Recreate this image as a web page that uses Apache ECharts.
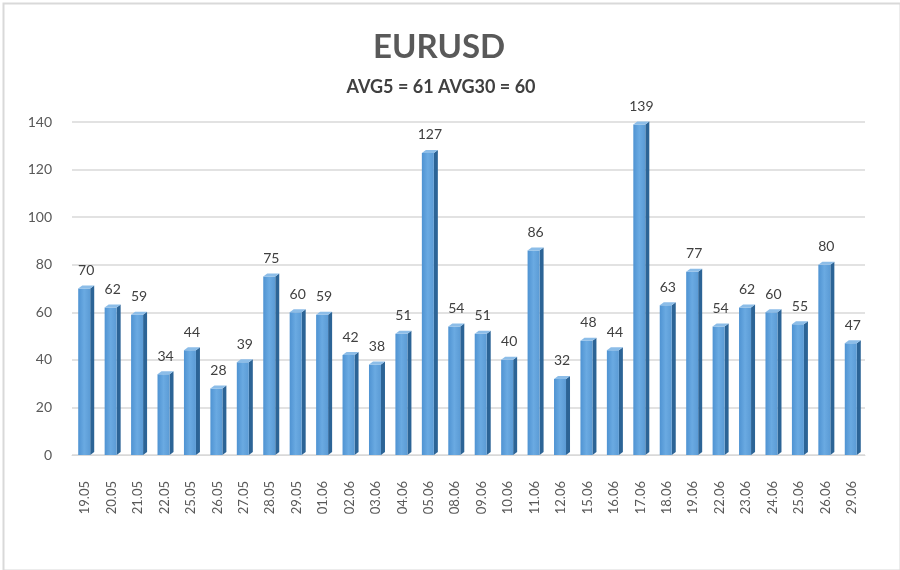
<!DOCTYPE html>
<html>
<head>
<meta charset="utf-8">
<script src="https://cdn.jsdelivr.net/npm/echarts@6/dist/echarts.min.js"></script>
<style>
  html, body { margin: 0; padding: 0; background: #fff; }
  #chart { width: 900px; height: 570px; }
</style>
</head>
<body>
<div id="chart"></div>
<script>
const dates = ["19.05", "20.05", "21.05", "22.05", "25.05", "26.05", "27.05", "28.05", "29.05", "01.06",
	"02.06", "03.06", "04.06", "05.06", "08.06", "09.06", "10.06", "11.06", "12.06", "15.06",
	"16.06", "17.06", "18.06", "19.06", "22.06", "23.06", "24.06", "25.06", "26.06", "29.06"];
const volatility = [70, 62, 59, 34, 44, 28, 39, 75, 60, 59,
	42, 38, 51, 127, 54, 51, 40, 86, 32, 48,
	44, 139, 63, 77, 54, 62, 60, 55, 80, 47];
const titleText = "EURUSD";
const subText = "AVG5 = 61 AVG30 = 60";

const font = "Lato, 'Open Sans', sans-serif";
const textColor = "#595959";

const faceColor = new echarts.graphic.LinearGradient(0, 0, 1, 0, [
	{ offset: 0, color: "#4f93d2" },
	{ offset: 0.5, color: "#6aaae2" },
	{ offset: 1, color: "#5b9bd5" },
]);

const chart = echarts.init(document.getElementById("chart"));

chart.setOption({
	backgroundColor: "#fff",
	animation: false,
	title: [
		{
			text: titleText,
			left: 434, top: 26, textAlign: "center",
			textStyle: { fontFamily: font, fontSize: 33, fontWeight: "bold", color: textColor },
		},
		{
			text: subText,
			left: 436, top: 73, textAlign: "center",
			textStyle: { fontFamily: font, fontSize: 18, fontWeight: "bold", color: "#404040" },
		},
	],
	graphic: [
		{
			type: "rect", left: 1, top: 1,
			shape: { width: 897, height: 567 },
			style: { fill: "none", stroke: "#d9d9d9", lineWidth: 2 },
		},
	],
	grid: { left: 72, right: 35, top: 122, bottom: 115 },
	xAxis: {
		type: "category",
		data: dates,
		axisLine: { show: true, lineStyle: { color: "#d9d9d9" } },
		axisTick: { show: false },
		axisLabel: { rotate: 90, color: textColor, fontFamily: font, fontSize: 13, margin: 26, interval: 0 },
	},
	yAxis: {
		type: "value",
		min: 0, max: 140, interval: 20,
		axisLine: { show: false },
		axisTick: { show: false },
		axisLabel: { color: textColor, fontFamily: font, fontSize: 14, margin: 20 },
		splitLine: { lineStyle: { color: "#d9d9d9", width: 1.5 } },
	},
	series: [
		{
			type: "custom",
			data: volatility.map((v, i) => [i, v]),
			encode: { x: 0, y: 1 },
			renderItem: (params, api) => {
				const idx = api.value(0);
				const val = api.value(1);
				const top = api.coord([idx, val]);
				const base = api.coord([idx, 0]);
				const w = 12, d = 4, dy = 3;
				const l = top[0] - w / 2 - 1;
				const r = l + w;
				return {
					type: "group",
					children: [
						{
							type: "polygon",
							shape: { points: [[r, top[1]], [r + d, top[1] - dy], [r + d, base[1] - dy], [r, base[1]]] },
							style: { fill: "#2c6496" },
						},
						{
							type: "rect",
							shape: { x: l, y: top[1], width: w, height: base[1] - top[1] },
							style: { fill: faceColor },
						},
						{
							type: "polygon",
							shape: { points: [[l, top[1]], [l + d, top[1] - dy], [r + d, top[1] - dy], [r, top[1]]] },
							style: { fill: "#8cbde8" },
						},
						{
							type: "text",
							x: top[0] + 1,
							y: top[1] - 11,
							style: {
								text: String(val),
								align: "center",
								verticalAlign: "bottom",
								fill: "#404040",
								font: "14px " + font,
							},
						},
					],
				};
			},
		},
	],
});
</script>
</body>
</html>
